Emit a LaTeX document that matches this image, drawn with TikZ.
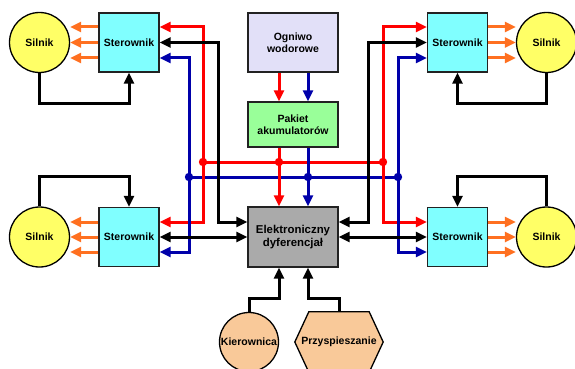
\documentclass[tikz,border=0pt]{standalone}
\usepackage{fontspec}
\setmainfont{Liberation Sans}
\usetikzlibrary{arrows.meta,calc}
\definecolor{cstero}{HTML}{80FFFF}
\definecolor{csil}{HTML}{FFFF66}
\definecolor{cogn}{HTML}{E2E0F8}
\definecolor{cpak}{HTML}{99FF99}
\definecolor{cel}{HTML}{AAAAAA}
\definecolor{cpeach}{HTML}{F9C999}
\definecolor{cred}{HTML}{FF0000}
\definecolor{cblue}{HTML}{0000AA}
\definecolor{corange}{HTML}{FF7020}
\definecolor{cedge}{HTML}{222222}
\tikzset{
  lbl/.style={font=\fontsize{10.5}{12.3}\selectfont\bfseries, align=center, inner sep=0pt},
  boxs/.style={lbl, draw=cedge, line width=1.3pt, rectangle},
  sterbox/.style={boxs, fill=cstero, minimum width=60pt, minimum height=59pt},
  silnik/.style={lbl, circle, draw=black, line width=1.3pt, fill=csil, minimum size=60pt},
  wire/.style={line width=3pt},
  tip/.style={-{Triangle[length=11pt,width=10pt]}},
  tips/.style={{Triangle[length=11pt,width=10pt]}-{Triangle[length=11pt,width=10pt]}},
  redw/.style={wire, cred},
  bluew/.style={wire, cblue},
  blackw/.style={wire, black},
  orangew/.style={wire, corange, tip},
  dotr/.style={fill=cred},
  dotb/.style={fill=cblue},
}
\begin{document}
\begin{tikzpicture}[x=1pt,y=-1pt]
\useasboundingbox (0,0) rectangle (575,369);
\fill[white] (0,0) rectangle (575,369);

% nodes
\node[sterbox] (stl) at (129,42.5) {Sterownik};
\node[sterbox] (str) at (457.5,42.5) {Sterownik};
\node[sterbox] (sbl) at (129,237) {Sterownik};
\node[sterbox] (sbr) at (457.5,237) {Sterownik};
\node[silnik] (siltl) at (39.5,42.5) {Silnik};
\node[silnik] (siltr) at (546.5,42.5) {Silnik};
\node[silnik] (silbl) at (39.5,237) {Silnik};
\node[silnik] (silbr) at (546.5,237) {Silnik};
\node[boxs, fill=cogn, minimum width=90pt, minimum height=59pt] (og) at (293,42.5) {Ogniwo\\wodorowe};
\node[boxs, fill=cpak, minimum width=90pt, minimum height=45pt] (pak) at (293,124.5) {Pakiet\\akumulatorów};
\node[boxs, fill=cel, minimum width=90pt, minimum height=60pt, font=\fontsize{11.4}{13.2}\selectfont\bfseries] (el) at (293,237) {Elektroniczny\\dyferencjał};
\node[lbl, circle, draw=black, line width=1.3pt, fill=cpeach, minimum size=59pt] (kier) at (249,342) {Kierownica};
\node[lbl, rectangle, minimum width=88pt, minimum height=60pt] (acc) at (339,342) {};
\draw[line width=1.3pt, fill=cpeach] (acc.west) -- ($(acc.north west)+(14,0)$) -- ($(acc.north east)+(-14,0)$) -- (acc.east) -- ($(acc.south east)+(-14,0)$) -- ($(acc.south west)+(14,0)$) -- cycle;
\node[lbl] at (acc) {Przyspieszanie};

% bus coordinates
\coordinate (rL) at (203,0);
\coordinate (bL) at (189,0);
\coordinate (kL) at (218,0);
\coordinate (rR) at (383,0);
\coordinate (bR) at (398,0);
\coordinate (kR) at (368,0);
\coordinate (rbus) at (0,162);
\coordinate (bbus) at (0,177);

% ports
\coordinate (tlR) at ([yshift=15.5pt]stl.east);
\coordinate (tlB) at ([yshift=-15.5pt]stl.east);
\coordinate (trR) at ([yshift=15.5pt]str.west);
\coordinate (trB) at ([yshift=-15.5pt]str.west);
\coordinate (blR) at ([yshift=15pt]sbl.east);
\coordinate (blB) at ([yshift=-15pt]sbl.east);
\coordinate (brR) at ([yshift=15pt]sbr.west);
\coordinate (brB) at ([yshift=-15pt]sbr.west);
\coordinate (elL) at ([yshift=15pt]el.west);
\coordinate (elR) at ([yshift=15pt]el.east);

% orange motor arrows
\foreach \s in {15.5,0,-15.5}{
  \draw[orangew] ([yshift=\s pt]stl.west) -- ([yshift=\s pt]stl.west -| siltl.east);
  \draw[orangew] ([yshift=\s pt]str.east) -- ([yshift=\s pt]str.east -| siltr.west);
}
\foreach \s in {15,0,-15}{
  \draw[orangew] ([yshift=\s pt]sbl.west) -- ([yshift=\s pt]sbl.west -| silbl.east);
  \draw[orangew] ([yshift=\s pt]sbr.east) -- ([yshift=\s pt]sbr.east -| silbr.west);
}

% feedback loops
\draw[blackw, tip] (siltl.south) -- ++(0,30) -| (stl.south);
\draw[blackw, tip] (siltr.south) -- ++(0,30) -| (str.south);
\draw[blackw, tip] (silbl.north) -- ++(0,-30) -| (sbl.north);
\draw[blackw, tip] (silbr.north) -- ++(0,-30) -| (sbr.north);

% buses
\draw[redw] (rL |- rbus) -- (rR |- rbus);
\draw[bluew] (bL |- bbus) -- (bR |- bbus);

% left vertical lines
\draw[redw, tips] (tlR) -| (rL |- blR) -- (blR);
\draw[bluew, tips] (tlB) -| (bL |- blB) -- (blB);
\draw[blackw, tips] (stl.east) -| (kL |- elL) -- (elL);
% right vertical lines
\draw[redw, tips] (trR) -| (rR |- brR) -- (brR);
\draw[bluew, tips] (trB) -| (bR |- brB) -- (brB);
\draw[blackw, tips] (str.west) -| (kR |- elR) -- (elR);

% centre
\draw[redw, tip] ([xshift=-14pt]og.south) -- ([xshift=-14pt]pak.north);
\draw[bluew, tip] ([xshift=15pt]og.south) -- ([xshift=15pt]pak.north);
\draw[redw, tip] ([xshift=-14pt]pak.south) -- ([xshift=-14pt]el.north);
\draw[bluew, tip] ([xshift=15pt]pak.south) -- ([xshift=15pt]el.north);

% side double arrows
\draw[blackw, tips] (sbl.east) -- (el.west);
\draw[blackw, tips] (el.east) -- (sbr.west);

% inputs
\draw[blackw, tip] (kier.north) -- ++(0,-13) -| ([xshift=-14pt]el.south);
\draw[blackw, tip] (acc.north) -- ++(0,-13) -| ([xshift=15pt]el.south);

% junction dots
\fill[dotr] (rL |- rbus) circle (4.2pt);
\fill[dotr] (rR |- rbus) circle (4.2pt);
\fill[dotr] ([xshift=-14pt]pak.south |- rbus) circle (4.2pt);
\fill[dotb] (bL |- bbus) circle (4.2pt);
\fill[dotb] (bR |- bbus) circle (4.2pt);
\fill[dotb] ([xshift=15pt]pak.south |- bbus) circle (4.2pt);
\end{tikzpicture}
\end{document}
